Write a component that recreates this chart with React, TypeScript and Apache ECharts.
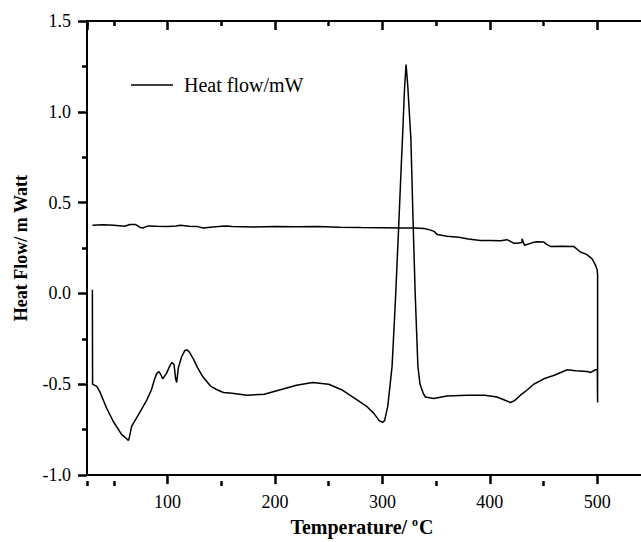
import React, { useEffect, useRef } from "react";
import * as echarts from "echarts";

// Heating run (temperature °C, heat flow mW)
const heatTemp = [
  30, 30.2, 32, 34, 37, 43.3, 49.5, 57.3, 60, 62, 63.5, 64.5, 66.6, 72.8, 80.6,
  85, 88, 90, 92, 94, 95.5, 99, 102, 104, 106, 107.5, 108.5, 110, 113, 116, 118,
  120, 124, 128, 133, 140, 146, 152, 160, 174, 190, 205, 220, 235, 250, 262, 275,
  285, 292, 297, 300, 302, 305, 309, 312, 315, 317.5, 319, 320.5, 322, 323.5, 325,
  326.5, 328.7, 330.5, 333, 335, 338, 340, 347.7, 360, 378.8, 395, 406.7, 413,
  419.1, 423, 428.4, 435, 440.8, 450.2, 460, 472, 480, 490.6, 494, 498.3, 500,
];
const heatFlow = [
  0.02, -0.5, -0.505, -0.51, -0.542, -0.632, -0.705, -0.777, -0.79, -0.8, -0.81,
  -0.79, -0.73, -0.668, -0.587, -0.53, -0.47, -0.44, -0.43, -0.45, -0.47, -0.44,
  -0.4, -0.38, -0.39, -0.47, -0.49, -0.41, -0.35, -0.315, -0.31, -0.32, -0.36,
  -0.41, -0.46, -0.51, -0.53, -0.545, -0.55, -0.56, -0.555, -0.53, -0.505, -0.49,
  -0.5, -0.53, -0.58, -0.62, -0.66, -0.7, -0.71, -0.7, -0.62, -0.4, -0.05, 0.35,
  0.7, 0.9, 1.12, 1.26, 1.15, 1.0, 0.85, 0.36, 0.0, -0.4, -0.5, -0.55, -0.57,
  -0.578, -0.565, -0.56, -0.56, -0.57, -0.585, -0.6, -0.59, -0.56, -0.53, -0.5,
  -0.47, -0.45, -0.42, -0.425, -0.43, -0.435, -0.42, -0.42,
];
// End of run at 500 °C and cooling run back to 30 °C
const coolTemp = [
  500.3, 500.3, 499.9, 498.3, 495.2, 490, 484.3, 478, 466, 456.4, 453, 450.2, 444,
  440, 432.2, 430, 430, 425, 422.2, 416, 410, 400, 391, 380, 371, 360, 351, 348,
  344, 339, 330, 317, 300, 280, 260, 240, 220, 200, 180, 160, 155, 150, 140, 133,
  128, 120, 112, 108, 100, 90, 82, 77, 74, 70, 65, 60, 50, 40, 30,
];
const coolFlow = [
  -0.6, 0.1, 0.13, 0.156, 0.19, 0.215, 0.228, 0.259, 0.26, 0.259, 0.27, 0.283,
  0.285, 0.28, 0.265, 0.301, 0.28, 0.277, 0.277, 0.296, 0.29, 0.292, 0.292, 0.3,
  0.31, 0.315, 0.324, 0.342, 0.35, 0.358, 0.36, 0.36, 0.362, 0.363, 0.365, 0.368,
  0.367, 0.368, 0.366, 0.368, 0.372, 0.37, 0.365, 0.36, 0.368, 0.37, 0.375, 0.372,
  0.368, 0.37, 0.372, 0.36, 0.365, 0.38, 0.38, 0.37, 0.375, 0.378, 0.375,
];

// Axis ranges / ticks
const xMin = 25;
const xMax = 550;
const xMinorOffset = 50; // minor ticks sit halfway between the labelled ticks
const yMin = -1;
const yMax = 1.5;
const yStep = 0.5;
const seriesName = "Heat flow/mW";

const FONT = "'Liberation Serif', 'Times New Roman', serif";

export default function App() {
  const ref = useRef<HTMLDivElement>(null);
  useEffect(() => {
    if (!ref.current) return;
    const chart = echarts.init(ref.current, null, { renderer: "svg" });
    const data: number[][] = [];
    heatTemp.forEach((t, i) => data.push([t, heatFlow[i]]));
    coolTemp.forEach((t, i) => data.push([t, coolFlow[i]]));
    const mkLine = () => ({ show: true, onZero: false, lineStyle: { color: "#000", width: 2 } });
    const mkTick = (inside: boolean, length: number) => ({
      show: true,
      inside,
      length,
      lineStyle: { color: "#000", width: 2.5 },
    });
    const gridRect = { left: 87, top: 21, right: 49, bottom: 61 };
    chart.setOption({
      animation: false,
      backgroundColor: "#fff",
      grid: [{ ...gridRect }, { ...gridRect, show: false }],
      legend: {
        left: 126,
        top: 70,
        icon: "rect",
        itemWidth: 42,
        itemHeight: 1.5,
        data: [seriesName],
        itemStyle: { color: "#000" },
        textStyle: { fontFamily: FONT, fontSize: 20, color: "#000", padding: [0, 0, 0, 6] },
      },
      xAxis: [
        {
          type: "value",
          min: xMin,
          max: xMax,
          splitNumber: 5,
          splitLine: { show: false },
          gridIndex: 0,
          position: "bottom",
          axisLine: mkLine(),
          axisTick: mkTick(false, 9),
          axisLabel: {
            showMinLabel: false,
            showMaxLabel: false,
            fontFamily: FONT,
            fontSize: 18,
            color: "#000",
            margin: 18,
          },
          name: "Temperature/ {sup|o}C",
          nameLocation: "middle",
          nameGap: 38,
          nameTextStyle: {
            fontFamily: FONT,
            fontSize: 20,
            fontWeight: "bold",
            color: "#000",
            padding: [0, 14, 0, 0],
            rich: {
              sup: { fontFamily: FONT, fontSize: 12, fontWeight: "bold", color: "#000", verticalAlign: "top", padding: [0, 1, 10, 0] },
            },
          },
        },
        {
          type: "value",
          min: xMin,
          max: xMax,
          splitNumber: 5,
          splitLine: { show: false },
          gridIndex: 0,
          position: "top",
          axisLine: mkLine(),
          axisTick: mkTick(true, 9),
          axisLabel: { show: false },
        },
        {
          type: "value",
          min: xMin - xMinorOffset,
          max: xMax - xMinorOffset,
          splitNumber: 5,
          splitLine: { show: false },
          gridIndex: 1,
          position: "bottom",
          axisLine: { show: false, onZero: false },
          axisTick: mkTick(false, 5),
          axisLabel: { show: false },
        },
        {
          type: "value",
          min: xMin - xMinorOffset,
          max: xMax - xMinorOffset,
          splitNumber: 5,
          splitLine: { show: false },
          gridIndex: 1,
          position: "top",
          axisLine: { show: false, onZero: false },
          axisTick: mkTick(true, 5),
          axisLabel: { show: false },
        },
      ],
      yAxis: [
        {
          gridIndex: 0,
          type: "value",
          min: yMin,
          max: yMax,
          interval: yStep,
          axisLine: mkLine(),
          splitLine: { show: false },
          axisTick: mkTick(false, 9),
          minorTick: { show: true, splitNumber: 2, length: 5, lineStyle: { color: "#000", width: 2.5 } },
          axisLabel: {
            fontFamily: FONT,
            fontSize: 18,
            color: "#000",
            margin: 16,
            formatter: (v: number) => v.toFixed(1),
          },
          name: "Heat Flow/ m Watt",
          nameLocation: "middle",
          nameGap: 57,
          nameTextStyle: { fontFamily: FONT, fontSize: 18, fontWeight: "bold", color: "#000" },
        },
        { gridIndex: 1, type: "value", min: yMin, max: yMax, show: false },
      ],
      series: [
        {
          name: seriesName,
          type: "line",
          xAxisIndex: 0,
          yAxisIndex: 0,
          data,
          symbol: "none",
          showSymbol: false,
          lineStyle: { color: "#000", width: 1.5 },
          itemStyle: { color: "#000" },
        },
      ],
    });
    return () => chart.dispose();
  }, []);
  return (
    <div style={{ position: "fixed", left: 0, top: 0, width: 641, height: 542, overflow: "hidden", background: "#fff" }}>
      <div ref={ref} style={{ width: 700, height: 542 }} />
    </div>
  );
}
